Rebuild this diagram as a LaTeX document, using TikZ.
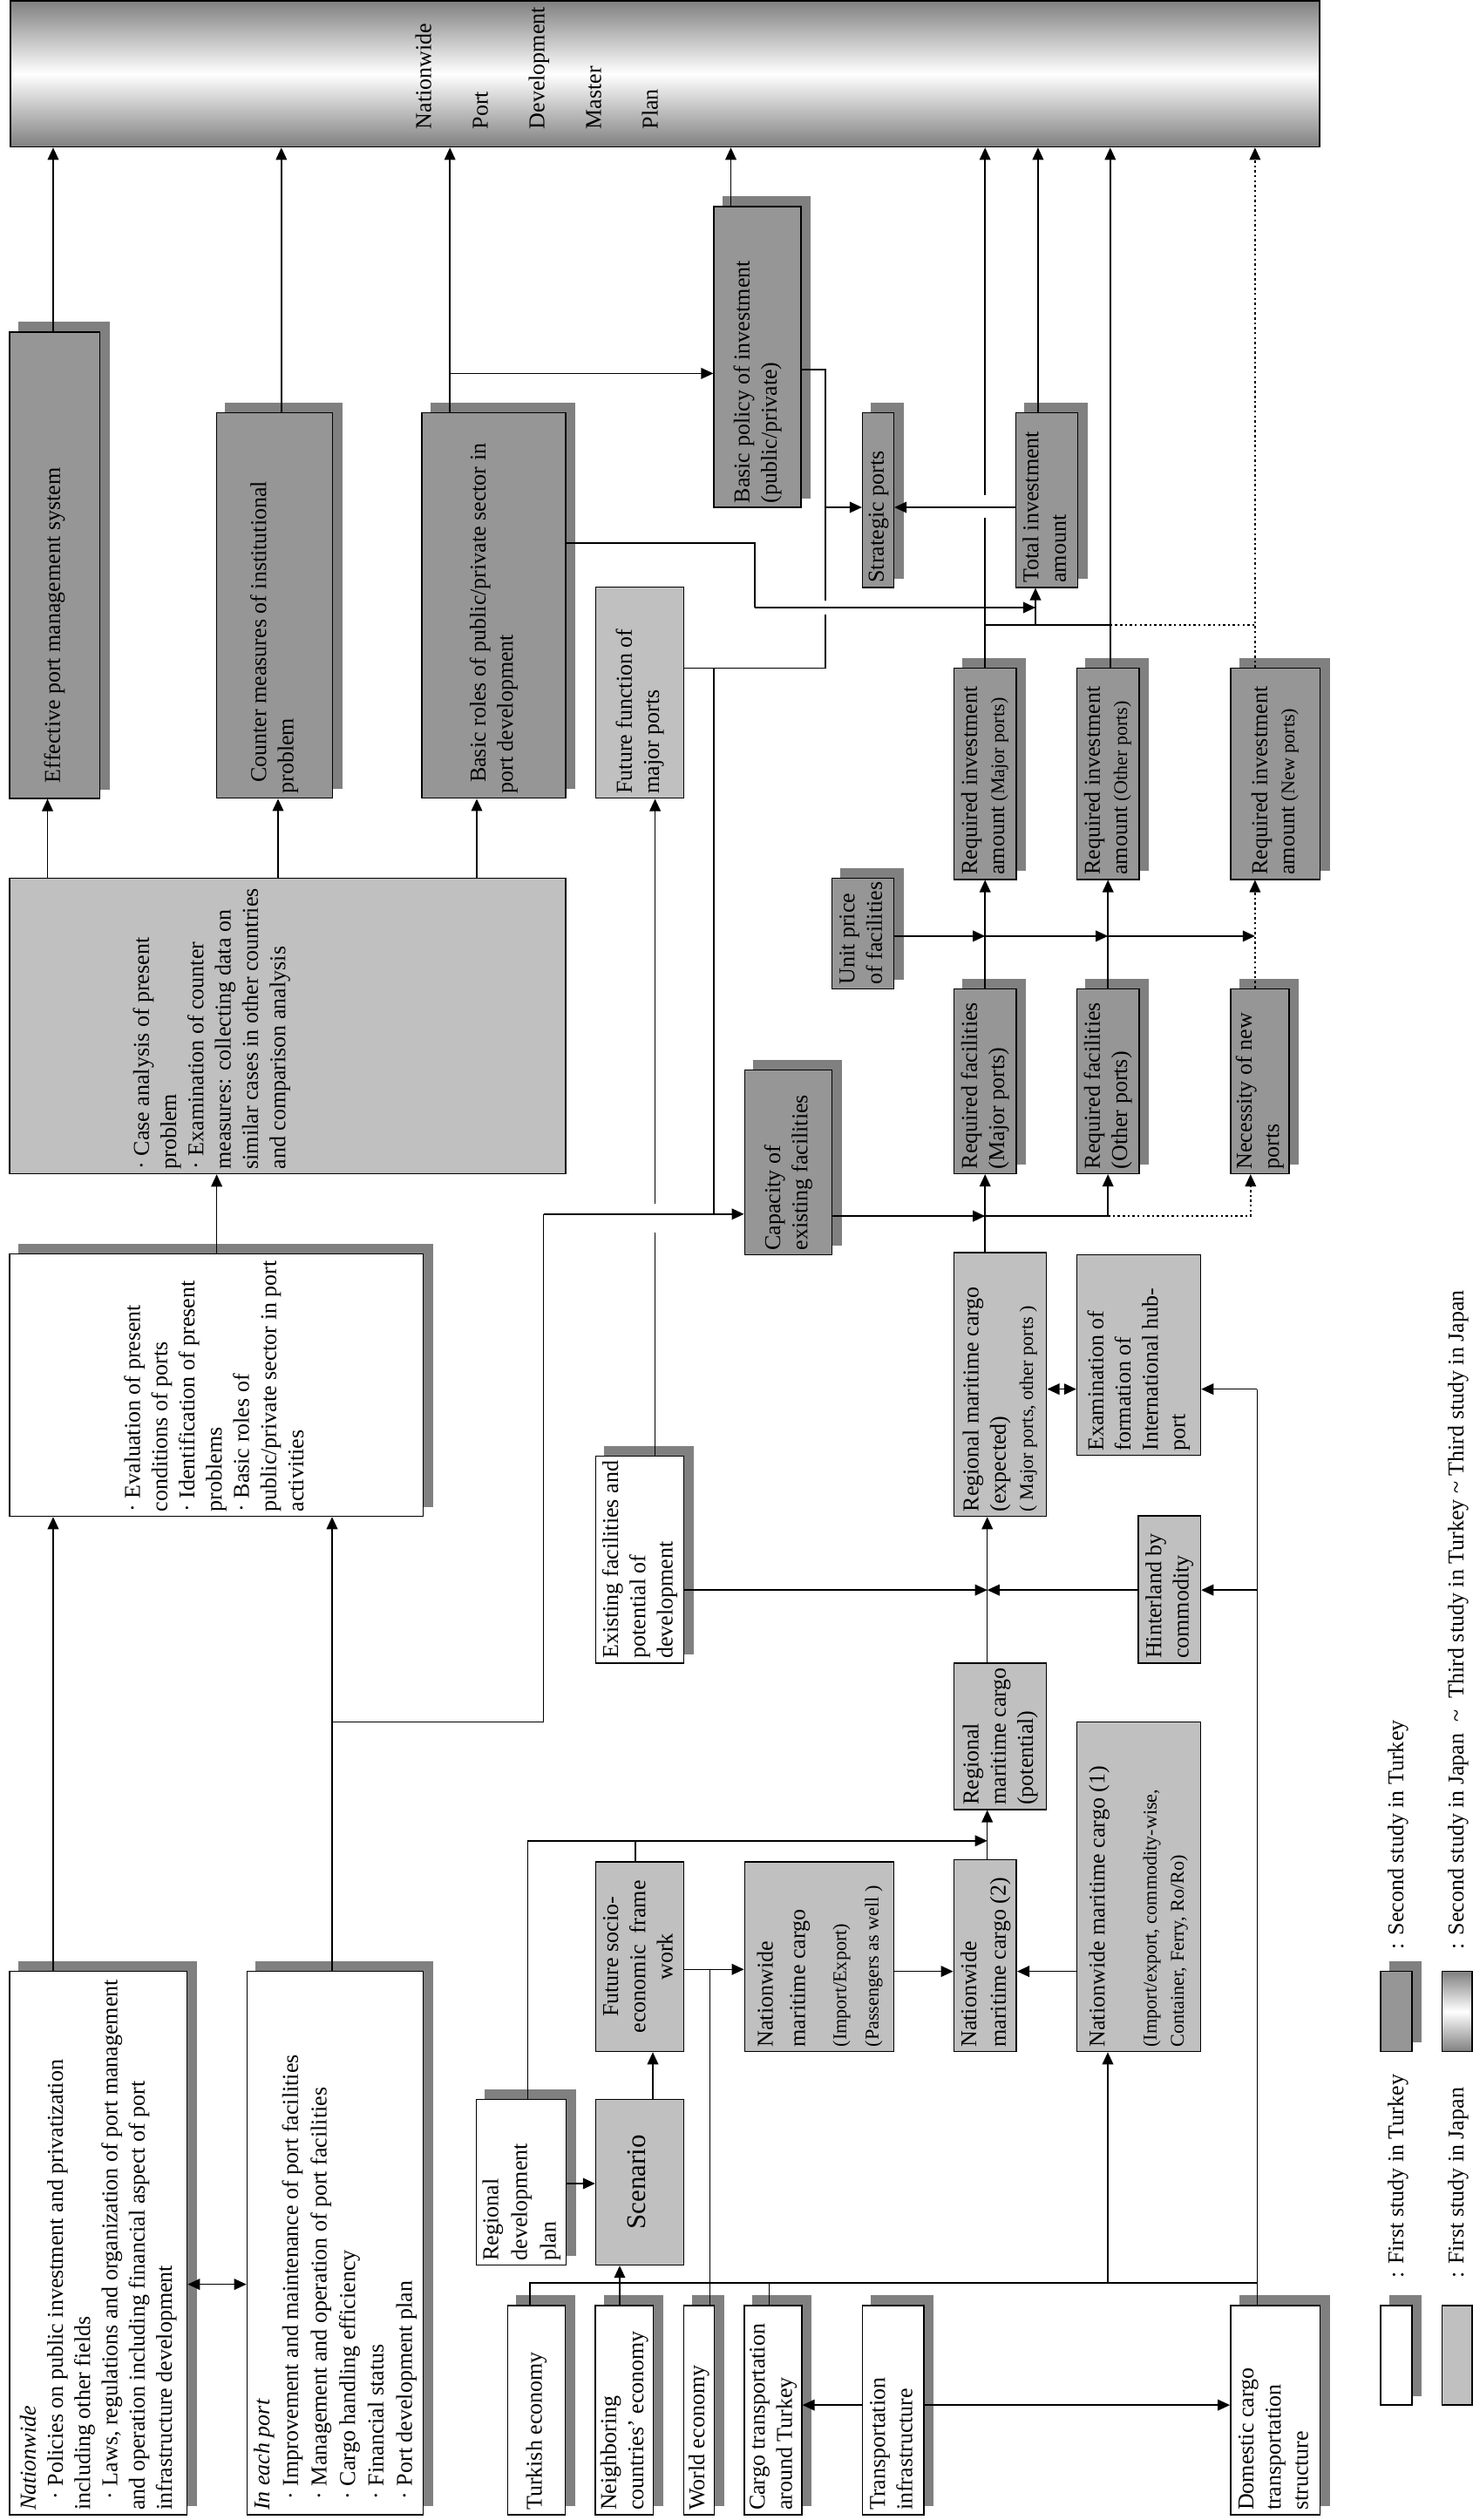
\documentclass[tikz,border=0pt]{standalone}
\usepackage{fontspec}
\setmainfont{Liberation Serif}
\usetikzlibrary{arrows.meta}
\pgfdeclarelayer{shadow}
\pgfsetlayers{shadow,main}
\definecolor{boxdark}{RGB}{150,150,150}
\definecolor{boxlight}{RGB}{192,192,192}
\definecolor{shadowgray}{RGB}{128,128,128}
\newcommand\boxfont{\fontsize{7.4}{8.9}\selectfont}
\newcommand\smallpar{\fontsize{6.3}{7.5}\selectfont}
\newcommand\firstind{\hspace*{3.6pt}}
\newcommand\leftlines[2]{\makebox[#1cm][l]{\begin{tabular}{@{}l@{}}#2\end{tabular}}}
\newcommand\centerlines[2]{\makebox[#1cm][c]{\begin{tabular}{@{}c@{}}#2\end{tabular}}}

\begin{document}
\begin{tikzpicture}[x=1cm, y=-1cm, font=\boxfont,
    bx/.style={draw, line width=0.45pt, rotate=90, inner xsep=0.05cm, inner ysep=0.5pt},
    dk/.style={bx, fill=boxdark},
    lt/.style={bx, fill=boxlight},
    wt/.style={bx, fill=white},
    sz/.style 2 args={minimum height=#1cm, minimum width=#2cm},
    txt/.style={rotate=90, inner sep=0pt},
    conn/.style={draw, line width=0.45pt},
    arr/.style={conn, -{Triangle[length=4pt,width=3.6pt]}},
    dbl/.style={conn, {Triangle[length=4pt,width=3.6pt]}-{Triangle[length=4pt,width=3.6pt]}},
    dotl/.style={dash pattern=on 0.7pt off 0.9pt}]
    \useasboundingbox (0,0) rectangle (16.90,28.91);

    % Master plan bar
    \node[draw, line width=0.45pt, minimum width=15.02cm, minimum height=1.675cm, inner sep=0pt,
          top color=shadowgray, bottom color=shadowgray, middle color=white] (plan) at (7.63,0.8475) {};
    \foreach \w [count=\i from 0] in {Nationwide,Port,Development,Master,Plan}
        \node[txt, anchor=base west] (pw\i) at (4.945+0.65*\i, 1.49) {\w};

    % Outputs of the institutional study
    \node[dk, sz={1.036}{5.348}] (eff) at (0.627,6.482) {\leftlines{5.25}{\firstind Effective port management system}};
    \node[dk, sz={1.330}{4.421}] (cnt) at (3.148,6.9455) {\leftlines{4.32}{\firstind Counter measures of institutional\\problem}};
    \node[dk, sz={1.648}{4.421}] (rol) at (5.666,6.9455) {\leftlines{4.32}{\firstind Basic roles of public/private sector in\\port development}};
    \node[dk, sz={1.000}{3.445}] (pol) at (8.692,4.0975) {\leftlines{3.35}{Basic policy of investment\\(public/private)}};
    \node[dk, sz={0.356}{2.002}] (str) at (10.075,5.736) {\leftlines{1.90}{Strategic ports}};
    \node[dk, sz={0.709}{2.002}] (tot) at (12.0085,5.736) {\leftlines{1.90}{Total investment\\amount}};
    \node[lt, sz={1.011}{2.419}] (fut) at (7.3415,7.9465) {\leftlines{2.32}{Future function of\\major ports}};

    % Case analysis and evaluation
    \node[lt, sz={6.381}{3.385}] (cas) at (3.2995,11.7695) {\raisebox{0.81cm}[0pt][0pt]{\leftlines{3.29}{%
        · Case analysis of present\\problem\\· Examination of counter\\measures: collecting data on\\similar cases in other countries\\and comparison analysis}}};
    \node[wt, sz={4.744}{3.010}] (eva) at (2.481,15.889) {\leftlines{2.91}{%
        · Evaluation of present\\conditions of ports\\· Identification of present\\problems\\· Basic roles of\\public/private sector in port\\activities}};

    % Facilities and investment
    \node[dk, sz={1.000}{2.119}] (cap) at (9.044,13.3345) {\leftlines{2.02}{Capacity of\\existing facilities}};
    \node[dk, sz={0.709}{1.267}] (uni) at (9.8985,10.7105) {\leftlines{1.17}{Unit price\\of facilities}};
    \node[dk, sz={0.718}{2.421}] (rim) at (11.303,8.8765) {\leftlines{2.32}{Required investment\\amount {\smallpar (Major ports)}}};
    \node[dk, sz={0.712}{2.421}] (rio) at (12.712,8.8765) {\leftlines{2.32}{Required investment\\amount {\smallpar (Other ports)}}};
    \node[dk, sz={1.025}{2.421}] (rin) at (14.6315,8.8765) {\leftlines{2.32}{Required investment\\amount {\smallpar (New ports)}}};
    \node[dk, sz={0.718}{2.118}] (rfm) at (11.303,12.403) {\leftlines{2.02}{Required facilities\\(Major ports)}};
    \node[dk, sz={0.712}{2.118}] (rfo) at (12.712,12.403) {\leftlines{2.02}{Required facilities\\(Other ports)}};
    \node[dk, sz={0.672}{2.118}] (nec) at (14.455,12.403) {\leftlines{2.02}{Necessity of new\\ports}};

    % Cargo forecast
    \node[wt, sz={1.011}{2.374}] (exi) at (7.3415,17.892) {\leftlines{2.27}{Existing facilities and\\potential of\\development}};
    \node[lt, sz={1.063}{3.024}] (rex) at (11.4755,15.882) {\leftlines{2.92}{Regional maritime cargo\\(expected)\\{\smallpar ( Major ports, other ports )}}};
    \node[lt, sz={1.418}{2.301}] (hub) at (13.065,15.5445) {\leftlines{2.20}{Examination of\\formation of\\International hub-\\port}};
    \node[lt, sz={0.713}{1.690}] (hin) at (13.4175,18.234) {\leftlines{1.59}{Hinterland by\\commodity}};
    \node[lt, sz={1.063}{1.676}] (rpo) at (11.4755,19.917) {\leftlines{1.58}{Regional\\maritime cargo\\(potential)}};
    \node[lt, sz={1.011}{2.174}] (fse) at (7.3415,22.448) {\centerlines{2.07}{Future socio-\\economic\ \ frame\\work}};
    \node[lt, sz={1.709}{2.174}] (nie) at (9.3985,22.448) {{\fontsize{7.4}{10.5}\selectfont\leftlines{2.07}{Nationwide\\maritime cargo\\[3pt]{\smallpar (Import/Export)}\\{\smallpar (Passengers as well )}}}};
    \node[lt, sz={0.718}{2.198}] (nm2) at (11.303,22.436) {{\fontsize{7.4}{9.6}\selectfont\leftlines{2.10}{Nationwide\\maritime cargo (2)}}};
    \node[lt, sz={1.418}{3.781}] (nm1) at (13.065,21.6445) {\leftlines{3.68}{Nationwide maritime cargo (1)\\[8pt]{\smallpar (Import/export, commodity-wise,}\\{\smallpar Container, Ferry, Ro/Ro)}}};

    % Port management inputs
    \node[wt, sz={2.036}{6.234}] (nat) at (1.127,25.733) {\leftlines{6.13}{\textit{Nationwide}\\
        \firstind· Policies on public investment and privatization\\including other fields\\
        \firstind· Laws, regulations and organization of port management\\and operation including financial aspect of port\\infrastructure development}};
    \node[wt, sz={2.018}{6.234}] (ich) at (3.844,25.733) {{\fontsize{7.4}{9.3}\selectfont\leftlines{6.13}{\textit{In each port}\\
        \firstind· Improvement and maintenance of port facilities\\\firstind· Management and operation of port facilities\\
        \firstind· Cargo handling efficiency\\\firstind· Financial status\\\firstind· Port development plan}}};

    % Socio-economic inputs
    \node[wt, sz={1.020}{1.897}] (rdp) at (5.98,25.0335) {{\fontsize{7.4}{9.4}\selectfont\leftlines{1.80}{Regional\\development\\plan}}};
    \node[lt, sz={1.011}{1.897}] (scn) at (7.3415,25.0335) {\centerlines{1.80}{\fontsize{8.8}{10}\selectfont Scenario}};
    \node[wt, sz={0.658}{2.402}] (tur) at (6.154,27.649) {\leftlines{2.30}{Turkish economy}};
    \node[wt, sz={0.654}{2.402}] (nei) at (7.163,27.649) {\leftlines{2.30}{Neighboring\\countries' economy}};
    \node[wt, sz={0.345}{2.402}] (wor) at (8.0195,27.649) {\leftlines{2.30}{World economy}};
    \node[wt, sz={0.648}{2.402}] (cgo) at (8.868,27.649) {\leftlines{2.30}{Cargo transportation\\around Turkey}};
    \node[wt, sz={0.701}{2.402}] (tin) at (10.2475,27.649) {\leftlines{2.30}{Transportation\\infrastructure}};
    \node[wt, sz={1.025}{2.402}] (dom) at (14.6315,27.649) {\leftlines{2.30}{Domestic cargo\\transportation\\structure}};

    % Legend
    \node[wt, sz={0.356}{1.143}] (lg1) at (16.02,27.0195) {};
    \node[lt, sz={0.346}{1.143}] (lg2) at (16.717,27.0195) {};
    \node[dk, sz={0.356}{0.919}] (lg3) at (16.02,23.0755) {};
    \node[draw, line width=0.45pt, minimum width=0.346cm, minimum height=0.919cm, inner sep=0pt,
          top color=shadowgray, bottom color=shadowgray, middle color=white] (lg4) at (16.717,23.0755) {};
    \node[txt, anchor=west] (lt1) at (16.04,26.145) {: First study in Turkey};
    \node[txt, anchor=west] (lt2) at (16.73,26.145) {: First study in Japan};
    \node[txt, anchor=west] (lt3) at (16.04,22.369) {: Second study in Turkey};
    \node[txt, anchor=west] (lt4) at (16.73,22.369) {: Second study in Japan\ \ \textasciitilde\ \ Third study in Turkey \textasciitilde{} Third study in Japan};

    % Shadows
    \begin{pgfonlayer}{shadow}
        \foreach \n in {eff,cnt,rol,pol,str,tot,cap,uni,rim,rio,rin,rfm,rfo,nec,eva,exi,nat,ich,rdp,tur,nei,wor,cgo,tin,dom,lg1,lg3}
            \fill[shadowgray] ([xshift=1.05mm,yshift=1.1mm]\n.north east) rectangle ([xshift=1.05mm,yshift=1.1mm]\n.south west);
    \end{pgfonlayer}

    % Arrows to the master plan
    \draw[arr] (0.61,0 |- eff.east) -- (0.61,0 |- plan.south);
    \draw[arr] (3.228,0 |- cnt.east) -- (3.228,0 |- plan.south);
    \draw[arr] (5.162,0 |- rol.east) -- (5.162,0 |- plan.south);
    \draw[arr] (5.162,4.284) -- (pol.north |- 0,4.284);
    \draw[arr] (8.385,0 |- pol.east) -- (8.385,0 |- plan.south);
    \draw[conn] (11.302,0 |- rim.east) -- (11.302,5.936);
    \draw[arr] (11.302,5.68) -- (11.302,0 |- plan.south);
    \draw[arr] (11.909,0 |- tot.east) -- (11.909,0 |- plan.south);
    \draw[arr] (12.738,0 |- rio.east) -- (12.738,0 |- plan.south);
    \draw[arr, dotl] (14.399,0 |- rin.east) -- (14.399,0 |- plan.south);

    % Total investment and strategic ports
    \draw[conn] (11.302,7.17) -- (12.738,7.17);
    \draw[conn, dotl] (12.738,7.17) -- (14.399,7.17);
    \draw[arr] (11.88,7.17) -- (11.88,0 |- tot.west);
    \draw[conn] (rol.south |- 0,6.23) -| (8.66,6.97);
    \draw[arr] (8.66,6.97) -- (11.88,6.97);
    \draw[conn] (pol.south |- 0,4.237) -| (9.47,5.82);
    \draw[arr] (9.47,5.82) -- (str.north |- 0,5.82);
    \draw[conn] (fut.south |- 0,7.666) -| (9.47,7.054);
    \draw[conn] (9.47,6.89) -- (9.47,5.82);
    \draw[arr] (tot.north |- 0,5.82) -- (str.south |- 0,5.82);

    % Case analysis and evaluation
    \draw[arr] (0.545,0 |- cas.east) -- (0.545,0 |- eff.west);
    \draw[arr] (3.19,0 |- cas.east) -- (3.19,0 |- cnt.west);
    \draw[arr] (5.47,0 |- cas.east) -- (5.47,0 |- rol.west);
    \draw[arr] (2.486,0 |- eva.east) -- (2.486,0 |- cas.west);
    \draw[arr] (0.61,0 |- nat.east) -- (0.61,0 |- eva.west);
    \draw[arr] (3.81,0 |- ich.east) -- (3.81,0 |- eva.west);
    \draw[dbl] (nat.south |- 0,26.206) -- (ich.north |- 0,26.206);

    % Capacity of existing facilities
    \draw[conn] (3.81,19.754) -| (6.236,13.928);
    \draw[arr] (6.236,13.928) -- (cap.north |- 0,13.928);
    \draw[conn] (8.192,13.928) -- (8.192,7.666);
    \draw[conn] (7.516,0 |- exi.east) -- (7.516,14.137);
    \draw[arr] (7.516,13.81) -- (7.516,0 |- fut.west);

    % Required facilities and investment
    \draw[arr] (cap.south |- 0,13.951) -- (11.302,13.951);
    \draw[arr] (11.302,13.951) -| (12.712,0 |- rfo.west);
    \draw[arr, dotl] (12.712,13.951) -| (14.348,0 |- nec.west);
    \draw[arr] (11.302,0 |- rex.east) -- (11.302,0 |- rfm.west);
    \draw[arr] (11.302,0 |- rfm.east) -- (11.302,0 |- rim.west);
    \draw[arr] (12.712,0 |- rfo.east) -- (12.712,0 |- rio.west);
    \draw[arr, dotl] (14.399,0 |- nec.east) -- (14.399,0 |- rin.west);
    \draw[arr] (uni.south |- 0,10.739) -- (11.302,10.739);
    \draw[arr] (11.302,10.739) -- (12.712,10.739);
    \draw[arr] (12.712,10.739) -- (14.399,10.739);

    % Regional maritime cargo
    \draw[arr] (exi.south |- 0,18.241) -- (11.327,18.241);
    \draw[arr] (hin.north |- 0,18.241) -- (11.327,18.241);
    \draw[arr] (11.327,0 |- rpo.east) -- (11.327,0 |- rex.west);
    \draw[dbl] (rex.south |- 0,15.936) -- (hub.north |- 0,15.936);
    \draw[conn] (14.424,0 |- dom.east) -- (14.424,15.936);
    \draw[arr] (14.424,15.936) -- (hub.south |- 0,15.936);
    \draw[arr] (14.424,18.241) -- (hin.south |- 0,18.241);

    % Economic frame and cargo
    \draw[conn] (6.078,0 |- tur.east) |- (14.424,26.192);
    \draw[arr] (7.11,0 |- nei.east) -- (7.11,0 |- scn.west);
    \draw[conn] (8.824,0 |- cgo.east) -- (8.824,26.192);
    \draw[arr] (12.71,26.192) -- (12.71,0 |- nm1.west);
    \draw[conn] (8.145,0 |- wor.east) -- (8.145,22.593);
    \draw[arr] (tin.north |- 0,27.591) -- (cgo.south |- 0,27.591);
    \draw[arr] (tin.south |- 0,27.591) -- (dom.north |- 0,27.591);
    \draw[arr] (rdp.south |- 0,25.05) -- (scn.north |- 0,25.05);
    \draw[arr] (7.49,0 |- scn.east) -- (7.49,0 |- fse.west);
    \draw[arr] (fse.south |- 0,22.593) -- (nie.north |- 0,22.593);
    \draw[arr] (nie.south |- 0,22.616) -- (nm2.north |- 0,22.616);
    \draw[arr] (nm1.north |- 0,22.616) -- (nm2.south |- 0,22.616);
    \draw[arr] (11.327,0 |- nm2.east) -- (11.327,0 |- rpo.west);
    \draw[arr] (6.054,0 |- rdp.east) |- (11.327,21.118);
    \draw[conn] (7.29,0 |- fse.east) -- (7.29,21.118);
\end{tikzpicture}
\end{document}
